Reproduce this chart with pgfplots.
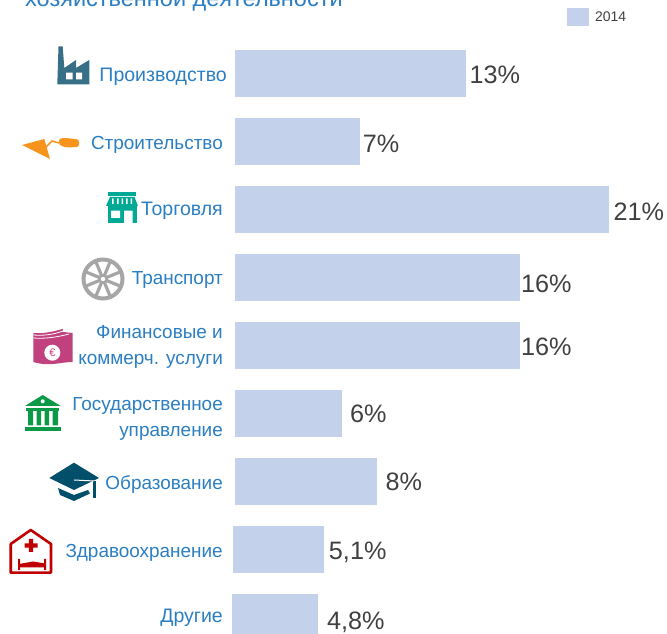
\documentclass[border=0pt]{standalone}
\usepackage{fontspec}
\setmainfont{Liberation Sans}
\usepackage{pgfplots}
\usepackage{pgfplotstable}
\pgfplotsset{compat=1.18}

\definecolor{barcol}{HTML}{C3D1EA}
\definecolor{labelblue}{HTML}{2B7EC1}
\definecolor{valgrey}{HTML}{404040}
\definecolor{factorycol}{HTML}{376F87}
\definecolor{trowelcol}{HTML}{F7941E}
\definecolor{storecol}{HTML}{00A896}
\definecolor{wheelcol}{HTML}{A6A6A6}
\definecolor{moneycol}{HTML}{C1417F}
\definecolor{bankcol}{HTML}{0C9A47}
\definecolor{capcol}{HTML}{014F6B}
\definecolor{hospcol}{HTML}{C00000}

\newcommand{\wider}{\fontsize{19.6}{26}\selectfont}
% tick label at its own height, the box does not move the node's anchor
\newcommand{\lift}[2]{\raisebox{#1bp}[0pt][0pt]{#2}}

\begin{document}
\begin{tikzpicture}[x=1bp,y=1bp]
\useasboundingbox (0,0) rectangle (667,634);
\clip (0,0) rectangle (667,634);
\begin{axis}[
  at={(235bp,0bp)}, anchor=south west,
  scale only axis,
  width=432bp, height=634bp,
  xmin=0, xmax=24.27,
  ymin=-1.081, ymax=8.243,
  y dir=reverse,
  axis line style={draw=none},
  tick style={draw=none},
  xtick=\empty,
  ytick={0,1,2,3,4,5,6,7,8},
  yticklabels={
    {\lift{-5}{\wider Производство\kern-4bp}},
    {\lift{-5.5}{Строительство}},
    {\lift{-3.5}{\wider Торговля}},
    {\lift{-4.5}{Транспорт}},
    {\lift{-2.5}{\begin{tabular}{@{}r@{}}Финансовые и\\коммерч. услуги\end{tabular}}},
    {\lift{-6.5}{\begin{tabular}{@{}r@{}}Государственное\\управление\end{tabular}}},
    {\lift{-5.5}{Образование}},
    {\lift{-5.5}{Здравоохранение}},
    {\lift{-2.5}{\wider Другие}}},
  yticklabel style={font=\fontsize{19}{26}\selectfont, text=labelblue,
    anchor=east, inner sep=0pt, xshift=-12bp, yshift=-3bp},
  clip=false,
  bar width=47bp,
  bar shift=0pt,
  point meta=explicit symbolic,
  nodes near coords={\pgfplotspointmeta\%},
  nodes near coords align={anchor=west},
  every node near coord/.append style={font=\fontsize{25.3}{25}\selectfont,
    text=valgrey, inner sep=0pt},
  legend style={at={(axis description cs:0.7685,0.9874)}, anchor=north west,
    draw=none, fill=none, inner sep=0pt, font=\fontsize{14}{14}\selectfont,
    text=valgrey, legend cell align=left},
  legend image code/.code={\fill[barcol] (0bp,-9bp) rectangle (22bp,9bp);},
  valbar/.style 2 args={xbar, fill=barcol, draw=none,
    every node near coord/.append style={xshift=#1bp, yshift=#2bp}},
  table/row sep=\\, table/x=v, table/y=pos, table/meta=lab,
]
% one plot per row, the label gap differs from bar to bar
\addplot[valbar={3}{-1}] table {pos v lab\\0 13 13\\};
\addlegendentry{\hspace{4bp}2014}
\addplot[valbar={3}{-2}, forget plot] table {pos v lab\\1 7 7\\};
\addplot[valbar={4.5}{-2}, forget plot] table {pos v lab\\2 21 21\\};
\addplot[valbar={1}{-6}, forget plot] table {pos v lab\\3 16 16\\};
\addplot[valbar={1}{-1}, forget plot] table {pos v lab\\4 16 16\\};
\addplot[valbar={8}{0}, forget plot] table {pos v lab\\5 6 6\\};
\addplot[valbar={8}{0}, forget plot] table {pos v lab\\6 8 8\\};
\addplot[valbar={5}{-3}, forget plot, xshift=-2bp] table {pos v lab\\7 5.1 {5,1}\\};
\addplot[valbar={9}{-5}, forget plot, xshift=-3bp] table {pos v lab\\8 4.83 {4,8}\\};
\end{axis}

% title cut by the top edge, icons in picture pixels
\begin{scope}[shift={(0,634)}, y=-1bp]
\node[anchor=base west, inner sep=0pt, text=labelblue, font=\fontsize{23.6}{24}\selectfont]
  at (25,6.5) {хозяйственной деятельности};

% factory
\fill[factorycol] (57.3,84.3) -- (58.5,46.5) -- (62.7,46.5) -- (64.3,68) -- (76,60) -- (76,68)
  -- (89.3,60) -- (89.3,84.3) -- cycle;
\fill[white] (66,72.7) rectangle (72.7,79.3) (76,72.7) rectangle (82,79.3);

% trowel
\fill[trowelcol] (22,145) -- (44.3,139) -- (50,159) -- cycle;
\draw[trowelcol, line width=1.5bp] (45,148) -- (52,141) -- (59,143);
\fill[trowelcol, rounded corners=2.5bp] (59,138.5) -- (66,138) -- (79,139.5) -- (79,147) -- (66,147.5) -- (59,145) -- cycle;

% store
\fill[storecol] (108.3,191.7) rectangle (136,196);
\fill[storecol] (110,197) -- (134.5,197) -- (138,206) -- (106,206) -- cycle;
\fill[white] (112,198.5) rectangle (113.5,204) (117,198.5) rectangle (118.5,204)
  (121.5,198.5) rectangle (123,204) (126,198.5) rectangle (127.5,204) (130.5,198.5) rectangle (132,204);
\fill[storecol] (107.5,206) rectangle (136.7,223);
\fill[white] (111,210.7) rectangle (120,218) (124,210.7) rectangle (132.7,223);

% wheel
\draw[wheelcol, line width=4bp] (103,279) circle[radius=19.5];
\foreach \a in {0,45,...,315}
  \draw[wheelcol, line width=3.2bp] (103,279) -- ++(\a+22.5:18);
\fill[wheelcol] (103,279) circle[radius=5];
\fill[white] (103,279) circle[radius=2.2];

% money
\fill[moneycol] (33.3,333) .. controls (45,334) and (55,331) .. (62.7,329) -- (63,332) -- (72.7,333)
  -- (72.7,362) .. controls (60,362) and (50,367) .. (33.3,362) -- cycle;
\draw[white, line width=0.8bp] (33.3,335) .. controls (45,336) and (55,334) .. (63,331);
\draw[white, line width=0.8bp] (33.3,338) .. controls (45,339) and (58,337) .. (69,334);
\fill[white] (52.3,352.7) circle[radius=8];
\node[text=moneycol, font=\fontsize{11}{11}\selectfont, inner sep=0pt] at (52.3,352.7) {€};

% bank
\fill[bankcol] (42.7,395) -- (60.7,406) -- (25,406) -- cycle;
\fill[white] (42.7,401.3) circle[radius=2];
\fill[bankcol] (26,407.7) rectangle (59.3,410.7);
\fill[bankcol] (28,411) rectangle (33,425.5) (36.5,411) rectangle (41,425.5)
  (44.5,411) rectangle (49,425.5) (52.5,411) rectangle (58,425.5);
\fill[bankcol] (25,426.7) rectangle (61,431);

% graduation cap
\fill[capcol] (74,462.7) -- (99,478) -- (74,490) -- (49.3,478) -- cycle;
\fill[capcol] (58,488) -- (74,495) -- (88,490) -- (90,493.5) -- (74,501) -- (60,495) -- cycle;
\fill[capcol] (93.3,481) rectangle (95.7,498.5);
\draw[white, line width=1bp] (74,480) -- (94,481);

% hospital
\draw[hospcol, line width=2.6bp, line join=round] (10.7,544) -- (30.7,530) -- (51,544)
  -- (51,572.7) -- (10.7,572.7) -- cycle;
\fill[hospcol] (28.8,539) rectangle (33,552) (24.5,543.5) rectangle (37.5,547.7);
\fill[hospcol] (18,559) rectangle (20,570) (44,559) rectangle (46,570);
\fill[hospcol] (19,564) -- (33,561.5) -- (45,563.5) -- (45,567.5) -- (19,567.5) -- cycle;
\end{scope}
\end{tikzpicture}
\end{document}
